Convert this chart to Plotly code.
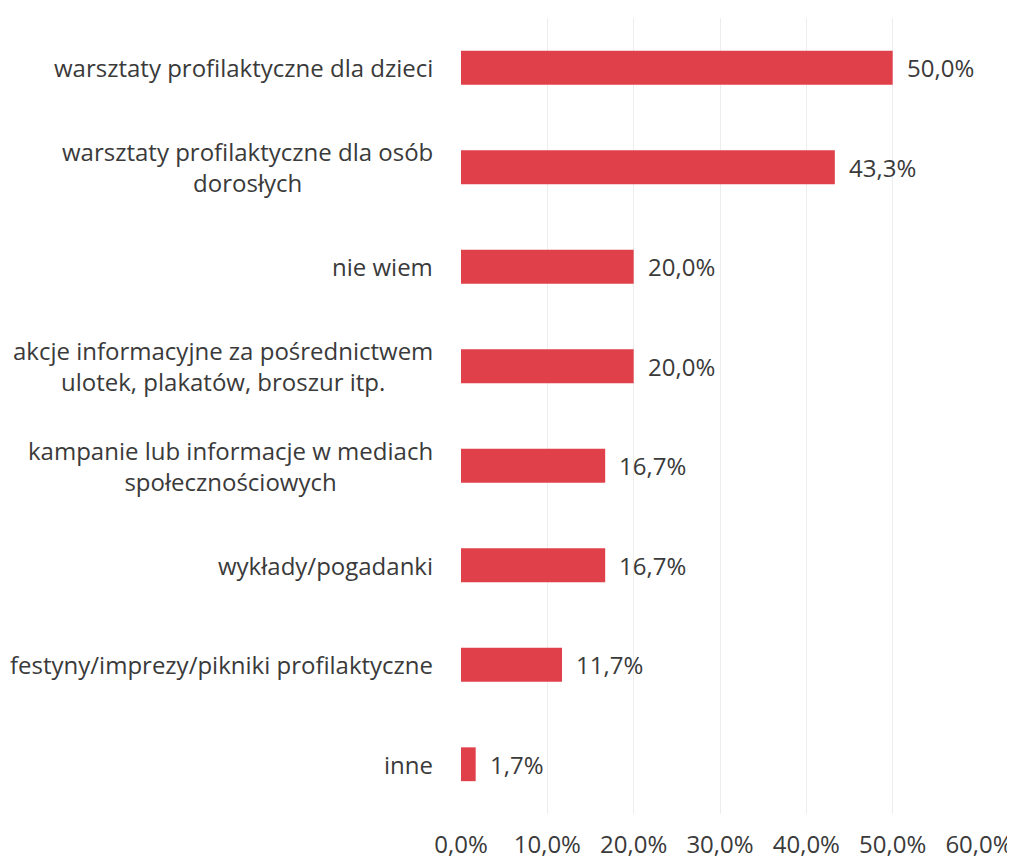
import plotly.graph_objects as go

categories = [
    "warsztaty profilaktyczne dla dzieci",
    "warsztaty profilaktyczne dla osób<br>dorosłych",
    "nie wiem",
    "akcje informacyjne za pośrednictwem<br>ulotek, plakatów, broszur itp.",
    "kampanie lub informacje w mediach<br>społecznościowych",
    "wykłady/pogadanki",
    "festyny/imprezy/pikniki profilaktyczne",
    "inne",
]
values = [50.0, 43.3, 20.0, 20.0, 16.7, 16.7, 11.7, 1.7]
tick_vals = [0, 10, 20, 30, 40, 50, 60]
tick_text = ["0,0%", "10,0%", "20,0%", "30,0%", "40,0%", "50,0%", "60,0%"]

def fmt(v):
    return f"{v:.1f}".replace(".", ",") + "%"

FONT = "Open Sans"
TXT = "#3a3a3a"
BAR = "#e0404a"
FS = 24

fig = go.Figure()
fig.add_trace(go.Bar(
    x=values, y=list(range(len(categories))), orientation="h",
    marker=dict(color=BAR, line=dict(width=0)), width=0.34,
    hoverinfo="skip",
))

ann = []
for i, (c, v) in enumerate(zip(categories, values)):
    ann.append(dict(x=0, xref="paper", y=i, yref="y", text=c, showarrow=False,
                    xanchor="right", yanchor="middle", align="center", xshift=-26,
                    font=dict(family=FONT, size=FS, color=TXT)))
    ann.append(dict(x=v, xref="x", y=i, yref="y", text=fmt(v), showarrow=False,
                    xanchor="left", yanchor="middle", xshift=12,
                    font=dict(family=FONT, size=FS, color=TXT)))

fig.update_layout(
    width=1007, height=856,
    margin=dict(l=453, r=36, t=10, b=50),
    paper_bgcolor="white", plot_bgcolor="white",
    showlegend=False,
    annotations=ann,
    xaxis=dict(range=[0, 60], tickvals=tick_vals, ticktext=tick_text,
               showgrid=True, gridcolor="#ededed", gridwidth=1, zeroline=False,
               showline=False, ticks="", ticklabelstandoff=14, automargin=False,
               tickfont=dict(family=FONT, size=FS, color=TXT)),
    yaxis=dict(range=[len(categories) - 0.5, -0.5], showticklabels=False,
               showgrid=False, zeroline=False, showline=False, ticks=""),
)
fig.write_html("out.html")
